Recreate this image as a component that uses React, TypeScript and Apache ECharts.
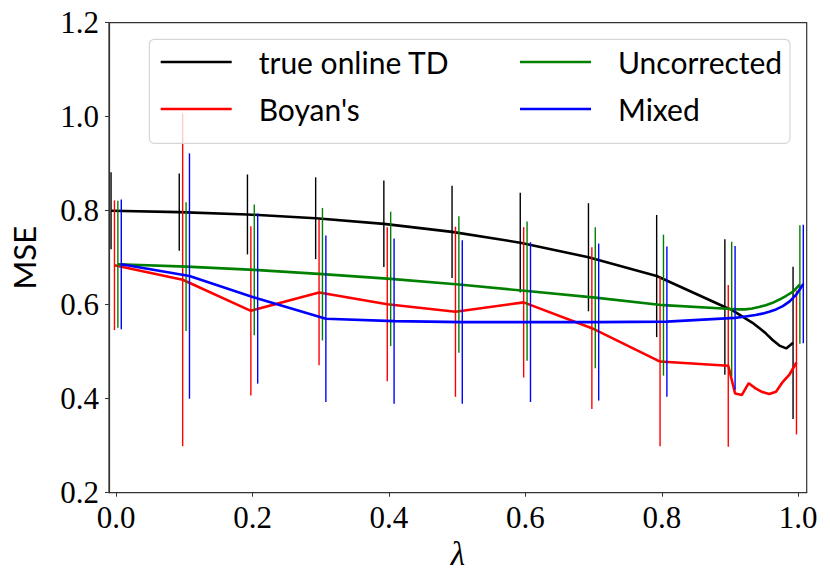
import React, { useEffect, useRef } from "react";
import * as echarts from "echarts";

// lambda grid of the curves
const LAMBDAS = [0, 0.1, 0.2, 0.3, 0.4, 0.5, 0.6, 0.7, 0.8, 0.9, 0.91, 0.92, 0.93, 0.94, 0.95, 0.96, 0.97, 0.98, 0.99, 1.0];
// lambdas where error bars are drawn
const ERR_LAMBDAS = [0, 0.1, 0.2, 0.3, 0.4, 0.5, 0.6, 0.7, 0.8, 0.9, 1.0];

const SERIES_NAMES = ["true online TD", "Boyan's", "Uncorrected", "Mixed"];
const SERIES_COLORS = ["#000000", "#ff0000", "#008000", "#0000ff"];
// small x shift of each method (in lambda units)
const X_SHIFTS = [-0.0075, -0.0025, 0.0025, 0.0075];

const TRUE_ONLINE = [0.8, 0.797, 0.792, 0.784, 0.772, 0.755, 0.732, 0.701, 0.661, 0.595, 0.589, 0.58, 0.571, 0.562, 0.551, 0.539, 0.525, 0.513, 0.507, 0.519];
const BOYAN = [0.684, 0.653, 0.587, 0.626, 0.601, 0.585, 0.605, 0.55, 0.479, 0.47, 0.411, 0.408, 0.433, 0.422, 0.414, 0.41, 0.415, 0.436, 0.452, 0.477];
const UNCORRECTED = [0.686, 0.681, 0.674, 0.665, 0.655, 0.643, 0.629, 0.615, 0.599, 0.591, 0.59, 0.59, 0.592, 0.595, 0.599, 0.604, 0.611, 0.619, 0.628, 0.643];
const MIXED = [0.686, 0.661, 0.613, 0.57, 0.565, 0.563, 0.563, 0.563, 0.564, 0.572, 0.574, 0.576, 0.578, 0.581, 0.585, 0.59, 0.597, 0.607, 0.622, 0.644];

// half-widths of the error bars at ERR_LAMBDAS
const ERR_TRUE_ONLINE = [0.082, 0.082, 0.085, 0.087, 0.092, 0.098, 0.106, 0.115, 0.13, 0.144, 0.162];
const ERR_BOYAN = [0.138, 0.354, 0.18, 0.155, 0.164, 0.181, 0.16, 0.172, 0.18, 0.172, 0.153];
const ERR_UNCORRECTED = [0.135, 0.137, 0.139, 0.141, 0.143, 0.145, 0.148, 0.15, 0.15, 0.143, 0.126];
const ERR_MIXED = [0.138, 0.261, 0.181, 0.177, 0.176, 0.174, 0.17, 0.167, 0.16, 0.153, 0.126];

const X_TICKS = [0, 0.2, 0.4, 0.6, 0.8, 1.0];

const VALUES = [TRUE_ONLINE, BOYAN, UNCORRECTED, MIXED];
const ERRORS = [ERR_TRUE_ONLINE, ERR_BOYAN, ERR_UNCORRECTED, ERR_MIXED];

const SERIF = "'Liberation Serif', 'DejaVu Serif', serif";
const SANS = "Lato, 'Noto Sans', sans-serif";

export default function App() {
  const ref = useRef<HTMLDivElement>(null);
  useEffect(() => {
    if (!ref.current) return;
    const chart = echarts.init(ref.current, undefined, { renderer: "svg" });
    const series: any[] = [];
    SERIES_NAMES.forEach((name, si) => {
      const vals = VALUES[si];
      const shift = X_SHIFTS[si];
      const errData = ERR_LAMBDAS.map((l, k) => {
        const idx = LAMBDAS.findIndex((v) => Math.abs(v - l) < 1e-9);
        const c = vals[idx];
        return [l + shift, c - ERRORS[si][k], c + ERRORS[si][k]];
      });
      series.push({
        type: "custom",
        name: name + " err",
        data: errData,
        z: 2 + si * 2,
        silent: true,
        encode: { x: 0, y: [1, 2] },
        renderItem: (params: any, api: any) => {
          const p1 = api.coord([api.value(0), api.value(1)]);
          const p2 = api.coord([api.value(0), api.value(2)]);
          return {
            type: "line",
            shape: { x1: p1[0], y1: p1[1], x2: p2[0], y2: p2[1] },
            style: { stroke: SERIES_COLORS[si], lineWidth: 1.4 },
          };
        },
      });
      series.push({
        type: "line",
        name,
        data: LAMBDAS.map((l, i) => [l + shift, vals[i]]),
        showSymbol: false,
        symbol: "none",
        z: 3 + si * 2,
        lineStyle: { color: SERIES_COLORS[si], width: 2.6 },
        itemStyle: { color: SERIES_COLORS[si] },
      });
    });

    const legendCommon = {
      orient: "vertical",
      icon: "rect",
      padding: 0,
      itemWidth: 71,
      itemHeight: 2.6,
      itemGap: 17,
      z: 30,
      textStyle: {
        fontFamily: SANS,
        fontSize: 30,
        color: "#000",
        lineHeight: 30,
        padding: [0, 0, 0, 22],
      },
      selectedMode: false,
    };

    chart.setOption({
      animation: false,
      backgroundColor: "#fff",
      grid: {
        left: 95.7,
        top: 22.7,
        width: 711,
        height: 470,
        show: true,
        borderColor: "#333",
        borderWidth: 1.2,
        backgroundColor: "transparent",
      },
      xAxis: {
        type: "value",
        min: -0.0105,
        max: 1.0125,
        name: "λ",
        nameLocation: "middle",
        nameGap: 36,
        nameTextStyle: { fontFamily: SERIF, fontStyle: "italic", fontSize: 33, color: "#000" },
        axisLine: { show: true, onZero: false, lineStyle: { color: "#333", width: 1.2 } },
        axisTick: { show: true, inside: false, length: 4, customValues: X_TICKS, lineStyle: { color: "#333", width: 1 } },
        axisLabel: {
          show: true,
          customValues: X_TICKS,
          margin: 9,
          fontFamily: SERIF,
          fontSize: 31,
          color: "#000",
          formatter: (v: number) => v.toFixed(1),
        },
        splitLine: { show: false },
      },
      yAxis: {
        type: "value",
        min: 0.2,
        max: 1.2,
        interval: 0.2,
        name: "MSE",
        nameLocation: "middle",
        nameGap: 70,
        nameTextStyle: { fontFamily: SANS, fontSize: 31, color: "#000" },
        axisLine: { show: true, onZero: false, lineStyle: { color: "#333", width: 1.2 } },
        axisTick: { show: true, inside: false, length: 4, lineStyle: { color: "#333", width: 1 } },
        axisLabel: {
          show: true,
          margin: 10,
          fontFamily: SERIF,
          fontSize: 31,
          color: "#000",
          formatter: (v: number) => v.toFixed(1),
        },
        splitLine: { show: false },
      },
      legend: [
        { ...legendCommon, left: 160.7, top: 47, data: [SERIES_NAMES[0], SERIES_NAMES[1]] },
        { ...legendCommon, left: 520, top: 47, data: [SERIES_NAMES[2], SERIES_NAMES[3]] },
      ],
      graphic: [
        {
          type: "rect",
          z: 20,
          shape: { x: 149.3, y: 39.3, width: 640.7, height: 104, r: 5 },
          style: { fill: "rgba(255,255,255,0.8)", stroke: "#d6d6d6", lineWidth: 1.2 },
          silent: true,
        },
      ],
      series,
    });
    return () => chart.dispose();
  }, []);
  return (
    <div
      ref={ref}
      style={{ position: "fixed", left: 0, top: 0, width: 830, height: 579 }}
    />
  );
}
